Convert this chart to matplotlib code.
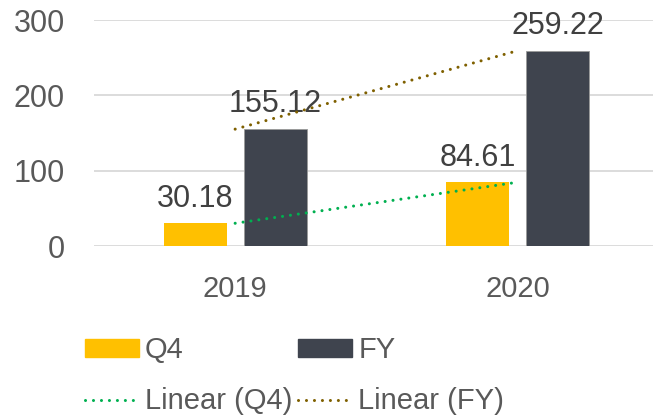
import matplotlib
matplotlib.use("Agg")
import matplotlib.pyplot as plt
import numpy as np
from matplotlib.patches import Patch
from matplotlib.lines import Line2D

categories = ["2019", "2020"]
q4_values = [30.18, 84.61]
fy_values = [155.12, 259.22]
y_ticks = [0, 100, 200, 300]

plt.rcParams['font.family'] = ['Liberation Sans', 'DejaVu Sans']

Q4_COLOR = "#FFC000"
FY_COLOR = "#3F444E"
Q4_TREND = "#00B050"
FY_TREND = "#7F6000"
TEXT = "#595959"
LABEL = "#404040"
FS = 22
FS_SMALL = 21

fig = plt.figure(figsize=(6.53, 4.16), dpi=100)
ax = fig.add_axes([94/653, 1-246/416, 1-94/653, 226/416])

x = np.arange(len(categories))
w = 0.223
off = 0.142
ax.bar(x - off, q4_values, w, color=Q4_COLOR, zorder=2)
ax.bar(x + off, fy_values, w, color=FY_COLOR, edgecolor="#9a9a9a", linewidth=0.6, zorder=2)

for xi, v in zip(x - off, q4_values):
    ax.annotate(f"{v:.2f}", (xi, v), xytext=(0, 12), textcoords="offset points",
                ha="center", va="baseline", fontsize=FS, color=LABEL, zorder=3)
for xi, v in zip(x + off, fy_values):
    ax.annotate(f"{v:.2f}", (xi, v), xytext=(0, 12), textcoords="offset points",
                ha="center", va="baseline", fontsize=FS, color=LABEL, zorder=3)

def trend(vals):
    c = np.polyfit(x, vals, 1)
    return np.polyval(c, x)

dot = (0, (0.01, 2.6))
ax.plot(x, trend(q4_values), color=Q4_TREND, lw=2.2, linestyle=dot,
        dash_capstyle="round", zorder=4)
ax.plot(x, trend(fy_values), color=FY_TREND, lw=2.2, linestyle=dot,
        dash_capstyle="round", zorder=4)

ax.set_xlim(-0.5, 1.48)
ax.set_ylim(0, 300)
ax.set_yticks(y_ticks)
ax.set_xticks(x)
ax.set_xticklabels(categories)
ax.tick_params(axis="y", length=0, labelsize=FS, labelcolor=TEXT, pad=21)
ax.tick_params(axis="x", length=0, labelsize=FS_SMALL, labelcolor=TEXT, pad=21)
ax.yaxis.grid(True, color="#D9D9D9", linewidth=1.3, zorder=0)
ax.set_axisbelow(True)
for s in ax.spines.values():
    s.set_visible(False)

handles = [
    Patch(color=Q4_COLOR, label="Q4"),
    Patch(color=FY_COLOR, label="FY"),
    Line2D([], [], color=Q4_TREND, lw=2.2, linestyle=dot, dash_capstyle="round", label="Linear (Q4)"),
    Line2D([], [], color=FY_TREND, lw=2.2, linestyle=dot, dash_capstyle="round", label="Linear (FY)"),
]
order = [0, 2, 1, 3]
leg = fig.legend([handles[i] for i in order], [handles[i].get_label() for i in order],
                 ncol=2, loc="upper left", bbox_to_anchor=(85/653, 1-336/416),
                 frameon=False, fontsize=FS_SMALL, labelcolor=TEXT,
                 handlelength=1.85, handleheight=0.58, handletextpad=0.21,
                 columnspacing=0.2, labelspacing=0.8, borderaxespad=0, borderpad=0)

fig.savefig("out.png", dpi=100)
